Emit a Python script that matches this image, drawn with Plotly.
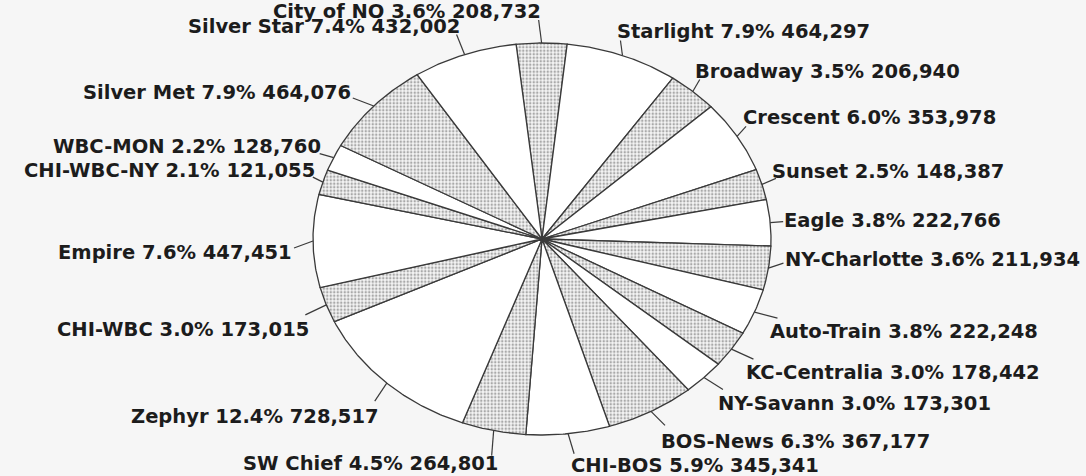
import numpy as np
import plotly.graph_objects as go

# ---------------- data ----------------
routes = ["City of NO", "Starlight", "Broadway", "Crescent", "Sunset", "Eagle",
          "NY-Charlotte", "Auto-Train", "KC-Centralia", "NY-Savann", "BOS-News",
          "CHI-BOS", "SW Chief", "Zephyr", "CHI-WBC", "Empire", "CHI-WBC-NY",
          "WBC-MON", "Silver Met", "Silver Star"]
riders = [208732, 464297, 206940, 353978, 148387, 222766, 211934, 222248,
          178442, 173301, 367177, 345341, 264801, 728517, 173015, 447451,
          121055, 128760, 464076, 432002]

# ---------------- layout / style ----------------
W, H = 1086, 476
CX_PX, CY_PX = 542, 239        # pie centre in pixels
RX_PX, RY_PX = 229, 196        # pie radii (elliptical, as in the scan)
ROTATION = -6.5                # start angle, degrees clockwise from 12 o'clock
BG = "#f6f6f6"
LINE = "#3a3a3a"
TEXT = "#1c1c1c"
FONT = dict(family="DejaVu Sans", size=19.5, color=TEXT, weight="bold")

# label placement offsets (pixels, relative to slice mid-point on the rim):
# (leader_dx, leader_dy, text_dx, text_dy, anchor side)
label_layout = [
    (-3, -23, -1, -32, "right"),
    (-2, -15, -5, -24, "left"),
    (7, -12, 2, -20, "left"),
    (9, -10, 6, -19, "left"),
    (14, -6, 10, -13, "left"),
    (13, -1, 14, -2, "left"),
    (15, -5, 17, -9, "left"),
    (23, 6, 16, 19, "left"),
    (22, 10, 15, 23, "left"),
    (19, 12, 14, 26, "left"),
    (14, 14, 10, 30, "left"),
    (6, 20, 3, 32, "left"),
    (-2, 25, 4, 33, "right"),
    (-12, 18, -8, 33, "right"),
    (-21, 10, -17, 25, "right"),
    (-19, 7, -21, 11, "right"),
    (-10, -5, -8, -12, "right"),
    (-14, -4, -13, -11, "right"),
    (-21, -8, -23, -14, "right"),
    (-8, -20, -5, -28, "right"),
]

total = float(sum(riders))
fig = go.Figure()

angle = ROTATION
mids = []
for i, (name, v) in enumerate(zip(routes, riders)):
    span = 360.0 * v / total
    a = np.radians(np.linspace(angle, angle + span, max(int(span * 2), 4)))
    xs = np.concatenate([[0.0], np.sin(a), [0.0]])
    ys = np.concatenate([[0.0], np.cos(a), [0.0]])
    dotted = (i % 2 == 0)
    kw = dict(
        x=xs, y=ys, mode="lines", fill="toself",
        line=dict(color=LINE, width=1.3),
        hoverinfo="skip", showlegend=False,
        fillcolor="#ffffff",
    )
    if dotted:
        kw["fillpattern"] = dict(shape=".", fgcolor="#5e5e5e", bgcolor="#f4f4f4",
                                 size=3.5, solidity=0.4)
    fig.add_trace(go.Scatter(**kw))
    mids.append(np.radians(angle + span / 2))
    angle += span

# leader lines and labels
for name, v, m, (ldx, ldy, tdx, tdy, side) in zip(routes, riders, mids, label_layout):
    mx, my = np.sin(m), np.cos(m)
    ex, ey = mx + ldx / RX_PX, my - ldy / RY_PX
    fig.add_trace(go.Scatter(x=[mx, ex], y=[my, ey], mode="lines",
                             line=dict(color=LINE, width=1.2),
                             hoverinfo="skip", showlegend=False))
    pct = 100.0 * v / total
    fig.add_annotation(
        x=mx, y=my, xref="x", yref="y",
        text=f"{name} {pct:.1f}% {v:,}",
        showarrow=False, xanchor=side, yanchor="middle",
        xshift=tdx, yshift=-tdy, font=FONT,
        borderpad=0, borderwidth=0,
    )

fig.update_layout(
    width=W, height=H,
    margin=dict(l=0, r=0, t=0, b=0),
    paper_bgcolor=BG, plot_bgcolor=BG,
    xaxis=dict(range=[-CX_PX / RX_PX, (W - CX_PX) / RX_PX], visible=False,
               fixedrange=True),
    yaxis=dict(range=[-(H - CY_PX) / RY_PX, CY_PX / RY_PX], visible=False,
               fixedrange=True),
)

fig.write_html(
    "out.html",
    config={"displayModeBar": False},
    post_script="document.body.style.margin='0';document.body.style.overflow='hidden';",
)
